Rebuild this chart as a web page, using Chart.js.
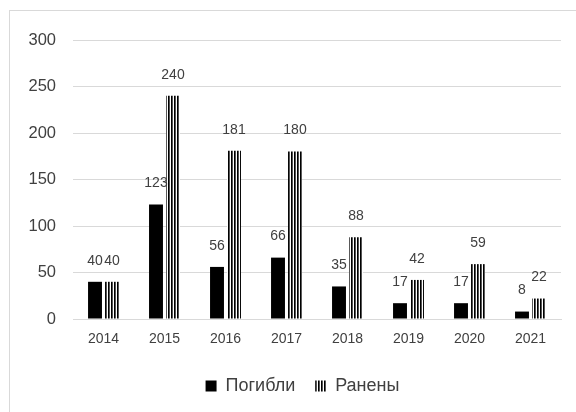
<!DOCTYPE html>
<html>
<head>
<meta charset="utf-8">
<script src="https://cdn.jsdelivr.net/npm/chart.js@4/dist/chart.umd.min.js"></script>
<style>
  html, body { margin: 0; padding: 0; background: #fff; }
  #wrap { position: relative; width: 576px; height: 412px; overflow: hidden; }
  canvas { position: absolute; left: 0; top: 0; }
</style>
</head>
<body>
<div id="wrap"><canvas id="c" width="576" height="412"></canvas></div>
<script>
const categories = ['2014', '2015', '2016', '2017', '2018', '2019', '2020', '2021'];
const killed = [40, 123, 56, 66, 35, 17, 17, 8];
const wounded = [40, 240, 181, 180, 88, 42, 59, 22];
const seriesNames = ['Погибли', 'Ранены'];
const yMax = 300;
const yStep = 50;

const FONT = "'Liberation Sans', Arial, sans-serif";
const TXT = '#404040';

function makeStripes() {
  const c = document.createElement('canvas');
  c.width = 3; c.height = 4;
  const g = c.getContext('2d');
  g.fillStyle = '#fff'; g.fillRect(0, 0, 3, 4);
  g.fillStyle = '#000'; g.fillRect(0, 0, 1, 4);
  g.fillStyle = '#555'; g.fillRect(1, 0, 1, 4);
  return g.createPattern(c, 'repeat');
}
const stripes = makeStripes();

const framePlugin = {
  id: 'frame',
  beforeDraw(chart) {
    const ctx = chart.ctx;
    ctx.save();
    ctx.fillStyle = '#fff';
    ctx.fillRect(0, 0, chart.width, chart.height);
    ctx.strokeStyle = '#d9d9d9';
    ctx.lineWidth = 1;
    ctx.strokeRect(9.5, 10.5, 700, 700);
    ctx.restore();
  }
};

const legendShift = {
  id: 'legendShift',
  afterLayout(chart) {
    if (chart.legend) {
      chart.legend.left += 22;
      chart.legend.right += 22;
    }
  }
};

const labelPlugin = {
  id: 'vlabels',
  afterDatasetsDraw(chart) {
    const ctx = chart.ctx;
    ctx.save();
    ctx.font = '14px ' + FONT;
    ctx.fillStyle = TXT;
    ctx.textAlign = 'center';
    ctx.textBaseline = 'middle';
    chart.data.datasets.forEach((ds, i) => {
      const meta = chart.getDatasetMeta(i);
      meta.data.forEach((el, j) => {
        ctx.fillText(String(ds.data[j]), el.x, el.y - 21);
      });
    });
    ctx.restore();
  }
};

new Chart(document.getElementById('c'), {
  type: 'bar',
  data: {
    labels: categories,
    datasets: [
      { label: seriesNames[0], data: killed, backgroundColor: '#000', borderWidth: 0,
        categoryPercentage: 0.557, barPercentage: 0.82 },
      { label: seriesNames[1], data: wounded, backgroundColor: stripes, borderWidth: 0,
        categoryPercentage: 0.557, barPercentage: 0.82 }
    ]
  },
  options: {
    responsive: false,
    animation: false,
    layout: { padding: { left: 0, right: 15, top: 40, bottom: 7 } },
    plugins: {
      legend: {
        position: 'bottom',
        labels: {
          font: { size: 18, family: FONT },
          color: TXT,
          boxWidth: 11,
          boxHeight: 11,
          padding: 20
        }
      },
      tooltip: { enabled: false }
    },
    scales: {
      x: {
        grid: { display: false, drawTicks: false },
        border: { display: true, color: '#d9d9d9' },
        ticks: { font: { size: 14, family: FONT }, color: TXT, padding: 12 },
        afterFit(s) { s.height = 38; }
      },
      y: {
        min: 0, max: yMax,
        grid: { color: '#d9d9d9', drawTicks: false },
        border: { display: false },
        ticks: { stepSize: yStep, font: { size: 16.5, family: FONT }, color: TXT, padding: 17 },
        afterFit(s) { s.width = 73; }
      }
    }
  },
  plugins: [framePlugin, legendShift, labelPlugin]
});
</script>
</body>
</html>
